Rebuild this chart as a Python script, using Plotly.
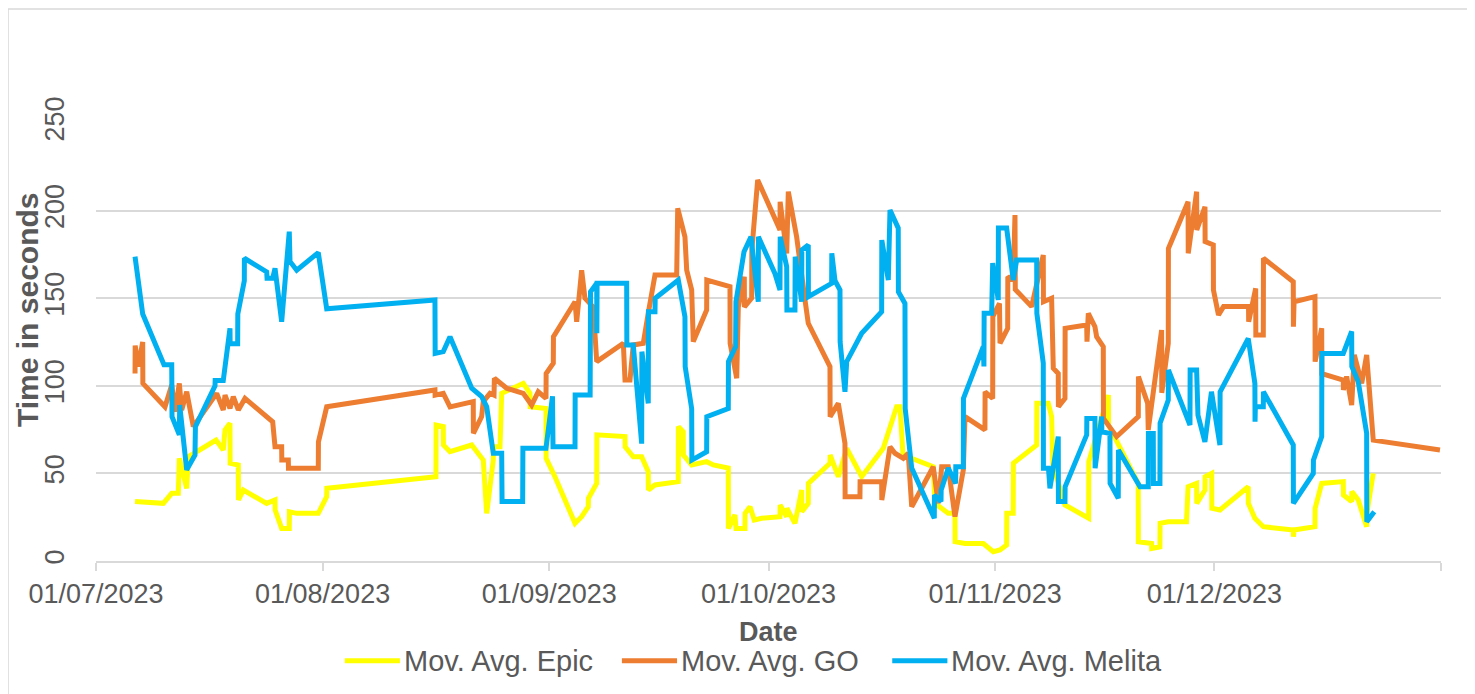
import plotly.graph_objects as go
import pandas as pd

start = pd.Timestamp('2023-07-01')

# days since 01/07/2023 and moving-average values (seconds)
epic_day = [5.34, 9.21, 10.36, 11.26, 11.4, 11.94, 12.41, 12.63, 13.78, 16.42, 17.41, 17.65, 18.33, 18.35,
            19.47, 19.49, 20.15, 23.35, 24.49, 24.51, 25.4, 26.44, 26.46, 27.46, 30.41, 31.56, 31.58,
            46.51, 46.53, 47.51, 47.53, 48.43, 51.4, 52.98, 53.45, 54.35, 54.37, 55.27, 55.5, 58.45,
            59.37, 59.39, 61.56, 61.58, 62.79, 65.53, 66.44, 67.35, 67.37, 68.5, 68.52, 72.37, 72.39,
            73.5, 74.65, 75.55, 75.57, 76.47, 79.66, 79.68, 80.34, 80.36, 81.49, 83.54, 84.45, 86.5,
            86.52, 87.41, 87.55, 88.78, 88.8, 89.47, 90.05, 91.07, 93.57, 93.59, 94.49, 94.51, 95.62,
            96.54, 96.56, 97.44, 97.46, 100.41, 100.43, 101.55, 102.7, 104.75, 107.7, 108.39, 109.53,
            109.99, 110.22, 110.4, 114.54, 114.77, 116.59, 117.51, 117.53, 118.88, 121.38, 122.75,
            123.67, 124.58, 124.6, 125.48, 125.5, 128.69, 128.71, 130.27, 130.73, 130.9, 132.56,
            135.8, 135.82, 138.5, 138.52, 142.58, 142.6, 144.41, 144.43, 145.55, 145.57, 146.69,
            149.18, 149.4, 150.57, 150.59, 151.71, 151.73, 152.63, 152.65, 153.76, 157.63, 157.65,
            158.54, 159.69, 163.79, 163.81, 163.9, 166.76, 166.78, 167.68, 170.63, 170.65, 171.78,
            171.8, 172.68, 173.83, 173.85, 174.73]
epic_val = [33.9, 32.9, 38.6, 38.6, 58.6, 48.1, 41.5, 59.5, 62.4, 69, 63.4, 74.8, 78.6, 55.8,
            54.8, 34.8, 40.5, 32.9, 34.8, 29.1, 18.6, 18.6, 28.1, 27.2, 27.2, 36.7, 41.5,
            48.1, 77.6, 76.7, 66.2, 62.4, 66.2, 57.6, 27.2, 57.6, 65.2, 65.2, 95.7, 101.4,
            95.7, 88, 87.1, 58.6, 48.1, 21.5, 25.3, 31, 35.8, 44.3, 72, 71, 65.2,
            59.5, 59.5, 51, 40.5, 43.4, 45.3, 76.7, 73.8, 60.5, 54.8, 56.7, 54.8, 53,
            18.6, 26.3, 18.6, 18.6, 27.2, 31, 23.4, 24.4, 25.3, 32, 25.3, 30.1, 21.5,
            40.5, 28.1, 32.9, 44.3, 55.8, 60.5, 48.1, 64.3, 48.1, 64.3, 72.8, 88,
            88, 65.2, 60.5, 53.8, 32.9, 27.2, 27.2, 11, 10, 10, 5.3,
            6.3, 9.1, 27.2, 27.2, 55.8, 66.2, 90, 90, 82.4, 55, 32,
            24.4, 56.7, 94.7, 77.6, 44.3, 11, 10, 7.2, 8.1, 21.5, 22.4,
            22.4, 42.4, 44.3, 32.9, 40.5, 48.1, 50, 30.1, 29.1, 42.4, 32.9,
            24.4, 19.6, 17.7, 13.9, 17.7, 19.6, 30.1, 44.3, 45.3, 37.7, 33.9,
            39.6, 34.8, 19.6, 27.2, 50]

go_day = [5.34, 5.36, 5.79, 6.39, 6.41, 9.44, 10.36, 10.81, 11.4, 11.72, 12.41, 13.31, 16.51, 17.41,
          17.65, 18.33, 18.78, 19.47, 20.38, 24.17, 24.49, 25.4, 25.42, 26.31, 26.33, 30.41, 30.43,
          31.56, 46.37, 46.39, 47.51, 48.43, 51.61, 51.63, 52.76, 52.98, 53.9, 54.45, 54.5, 56.18,
          58.45, 59.6, 60.5, 61.56, 61.58, 62.56, 62.58, 65.53, 65.76, 66.44, 66.89, 68.03, 68.5,
          72.14, 72.37, 73.05, 73.5, 74.87, 75.55, 76.47, 79.44, 79.58, 80.57, 80.81, 81.49, 81.71,
          83.54, 83.56, 86.73, 86.75, 87.65, 87.87, 88.69, 88.71, 89.7, 89.72, 90.52, 92.89, 93.57,
          93.59, 94.49, 94.71, 95.85, 96.99, 97.44, 100.41, 100.43, 101.55, 102.46, 102.48, 104.51,
          104.53, 107.48, 107.5, 108.62, 109.3, 110.44, 111.12, 111.59, 114.54, 115.23, 115.69,
          116.59, 117.51, 118.65, 118.88, 121.61, 121.63, 122.67, 122.69, 123.6, 123.67, 124.72,
          124.74, 125.48, 125.72, 125.76, 128.0, 129.59, 129.61, 130.73, 130.96, 131.64, 131.66,
          132.56, 132.58, 135.53, 135.57, 135.75, 136.66, 136.89, 137.8, 137.82, 139.63, 142.59,
          142.61, 143.87, 143.95, 145.78, 145.8, 146.69, 146.71, 149.4, 149.42, 150.57, 150.59,
          151.71, 151.73, 152.85, 152.87, 153.56, 154.25, 157.67, 157.69, 158.65, 158.67, 159.69,
          159.71, 163.79, 163.81, 163.9, 166.76, 166.78, 167.68, 167.7, 170.63, 170.65, 171.09,
          171.78, 172.14, 173.15, 173.83, 174.73, 183.86]
go_val = [107, 123, 111, 125, 101.4, 88, 100.5, 85.2, 101.4, 86.2, 96.6, 76.7, 95.7, 86.2,
          94.7, 87.1, 93.8, 86.2, 92.8, 79.5, 65.2, 65.2, 57.6, 57.6, 53, 53, 68,
          88, 97.6, 94.7, 95.7, 88, 91, 72.9, 82.4, 91, 95.7, 94.7, 104.3, 98.6,
          95.7, 89, 96.6, 92.8, 107, 112.9, 128, 148, 136.6, 166, 150, 145, 113.8,
          124.3, 103.3, 103.3, 123.3, 124.3, 141.4, 163.2, 163.2, 201.3, 185, 166, 154.7, 125.2,
          143.3, 160.4, 156.6, 124.3, 104.3, 145, 162.3, 145, 150, 177.5, 217.5, 194.6, 189,
          205, 175.6, 210.8, 185, 149, 135.7, 111, 82.4, 90, 67.2, 36.7, 36.7,
          45.3, 45.3, 34.8, 65.2, 61.5, 58.6, 61.5, 31, 53.8, 32.9, 53.8,
          53.8, 25.3, 52, 82.4, 74.8, 96.6, 92.8, 139.5, 147, 124.3, 132.8,
          162.3, 160.4, 197.5, 155, 145.2, 174.7, 148, 150, 110, 107, 88,
          92.8, 132.8, 134.7, 125.2, 141.4, 133.7, 128, 122.3, 81.4, 71, 82.4,
          105.3, 90, 74.8, 131.8, 96, 124.3, 178.4, 205, 175.6, 210.8, 189,
          202.2, 182.3, 180.4, 154.7, 140.4, 145.2, 145.2, 136.6, 155.6, 129, 129,
          172.8, 159.4, 133.7, 148, 150.9, 113.8, 132.8, 107, 103.3, 97.6, 105.3,
          89, 117.6, 101.4, 117.6, 69, 63.4]

melita_day = [5.34, 6.39, 9.3, 10.36, 10.4, 11.4, 11.45, 12.41, 13.54, 13.6, 16.28, 16.3, 17.41, 18.33,
              18.35, 19.38, 19.4, 20.29, 20.3, 23.35, 23.4, 24.17, 24.49, 25.4, 26.44, 26.54, 27.46,
              30.41, 31.56, 46.37, 46.4, 47.51, 48.43, 51.4, 52.76, 53.45, 54.35, 55.5, 55.55, 58.37,
              58.4, 61.56, 62.45, 62.52, 65.53, 65.55, 67.6, 67.65, 68.5, 68.52, 68.55, 72.6, 72.62,
              73.5, 74.65, 74.68, 75.55, 75.58, 76.47, 76.5, 79.66, 80.57, 80.6, 81.49, 81.52, 83.54,
              83.56, 86.5, 86.52, 87.5, 87.55, 88.65, 89.6, 90.6, 90.62, 92.89, 93.57, 93.6, 94.49,
              94.52, 95.62, 95.65, 96.54, 96.56, 97.44, 97.46, 100.64, 100.66, 101.1, 101.78, 101.8,
              102.46, 102.7, 104.75, 107.48, 107.5, 108.39, 108.62, 109.75, 109.77, 110.67, 110.7,
              111.59, 114.68, 114.7, 115.6, 115.62, 116.59, 117.6, 117.62, 118.65, 118.67, 121.38,
              121.47, 121.5, 122.53, 122.67, 123.43, 123.45, 124.58, 125.48, 125.95, 128.69, 128.71,
              129.59, 129.61, 130.3, 130.5, 131.64, 131.66, 132.56, 132.58, 135.53, 135.55, 136.66,
              136.68, 137.58, 137.6, 138.71, 138.73, 139.85, 139.87, 142.82, 143.95, 143.97, 144.64,
              144.66, 145.55, 145.57, 146.69, 146.71, 149.66, 149.68, 150.57, 150.75, 151.7, 152.6,
              153.76, 153.78, 157.63, 158.54, 158.56, 158.6, 159.69, 159.71, 163.79, 163.81, 166.53,
              166.55, 167.68, 167.7, 170.63, 171.78, 171.8, 172.68, 173.83, 173.85, 174.87]
melita_val = [173.7, 141, 112, 112, 82.4, 72, 89, 52, 60.5, 76.7, 100, 103, 103, 132.8,
              124, 124, 141, 160, 172.8, 165, 161.4, 161.4, 167, 136.6, 188, 171, 166,
              176, 144, 149, 118.5, 119.5, 128, 98.6, 93.8, 88, 61.5, 61.5, 34, 34,
              64.3, 64.3, 94, 65.2, 65.2, 94.7, 94.7, 153.7, 158.5, 130, 158.5, 158.5, 123.3,
              123.3, 67, 119.5, 90, 142.3, 142.3, 150, 160.4, 139.4, 111, 87, 57.6, 62.4,
              82.4, 87, 113.8, 122.3, 148, 176.5, 185, 148, 185, 164, 154.7, 185, 168,
              143.3, 143.3, 173.7, 148, 177.5, 180.4, 150.9, 158.5, 175.6, 160, 154.7, 125,
              96.6, 113.8, 130, 142.3, 183.2, 160.4, 200.3, 190, 153.7, 147, 87.1,
              53, 24.4, 37.7, 34, 40.5, 53, 44.3, 53.8, 53.8, 92.8, 122.3,
              111, 141.4, 141.4, 170, 149, 190, 190, 160.4, 171.8, 171.8, 141.4,
              112.9, 53, 53, 41.5, 71, 34, 34, 42.4, 72, 81.4, 81.4,
              53, 82.4, 73.8, 72.8, 44.3, 35.8, 63.4, 42.4, 42.4, 72.8, 72.8,
              44.3, 44.3, 78.6, 91.9, 109, 77.6, 109, 109, 83.3, 68, 96.6,
              66.2, 96.6, 127, 101.4, 79.5, 88, 88, 96.6, 66.2, 32.9, 50,
              57.6, 71, 118.5, 118.5, 131, 111, 102.3, 72.9, 22.4, 28.1]

month_ticks = ['2023-07-01', '2023-08-01', '2023-09-01', '2023-10-01', '2023-11-01', '2023-12-01', '2024-01-01']
month_labels = ['01/07/2023', '01/08/2023', '01/09/2023', '01/10/2023', '01/11/2023', '01/12/2023', '']

series_names = ['Mov. Avg. Epic', 'Mov. Avg. GO', 'Mov. Avg. Melita']
series_colors = ['#FFFF00', '#ED7D31', '#00B0F0']


def to_dates(days):
    return start + pd.to_timedelta(days, unit='D')


grey = '#595959'
font = 'Liberation Sans, Arial'

fig = go.Figure()
for days, vals, name, color in zip([epic_day, go_day, melita_day], [epic_val, go_val, melita_val],
                                   series_names, series_colors):
    fig.add_trace(go.Scatter(x=to_dates(days), y=vals, mode='lines', name=name,
                             line=dict(color=color, width=5)))

fig.update_layout(
    width=1475, height=694,
    margin=dict(l=88, r=42, t=115, b=141),
    paper_bgcolor='white', plot_bgcolor='white',
    font=dict(family=font, size=27, color=grey),
    showlegend=False,
    xaxis=dict(type='date', range=['2023-07-01', '2024-01-01'], automargin=False,
               tickvals=month_ticks, ticktext=month_labels,
               ticks='outside', ticklen=8, tickcolor='#d9d9d9', tickwidth=2,
               showline=True, linecolor='#d9d9d9', linewidth=2,
               showgrid=False, zeroline=False, tickfont=dict(size=27, color=grey)),
    yaxis=dict(range=[0, 250], dtick=50, tickangle=-90, automargin=False,
               showgrid=True, gridcolor='#d9d9d9', gridwidth=1.5,
               zeroline=False, showline=False, ticks='',
               ticklabelstandoff=26, tickfont=dict(size=27, color=grey)),
)

fig.add_annotation(text='<b>Date</b>', xref='paper', yref='paper', x=0.5, y=-0.163,
                   showarrow=False, font=dict(size=27, color=grey), yanchor='middle')
fig.add_annotation(text='<b>Time in seconds</b>', xref='paper', yref='paper', x=-0.0513, y=0.573,
                   showarrow=False, textangle=-90, font=dict(size=30, color=grey),
                   xanchor='center', yanchor='middle')

# legend drawn as line samples + text, placed like the original
legend_x = [0.185, 0.391, 0.592]
for lx, name, color in zip(legend_x, series_names, series_colors):
    fig.add_shape(type='line', xref='paper', yref='paper', x0=lx, x1=lx + 0.041, y0=-0.228, y1=-0.228,
                  line=dict(color=color, width=5))
    fig.add_annotation(text=name, xref='paper', yref='paper', x=lx + 0.0425, y=-0.228,
                       xanchor='left', yanchor='middle', showarrow=False,
                       font=dict(size=29, color=grey))

# outer chart border
fig.add_shape(type='rect', xref='paper', yref='paper', x0=-0.0654, x1=1.0238, y0=-0.33, y1=1.26,
              line=dict(color='#d9d9d9', width=1.5), layer='below')

fig.write_html('out.html')
